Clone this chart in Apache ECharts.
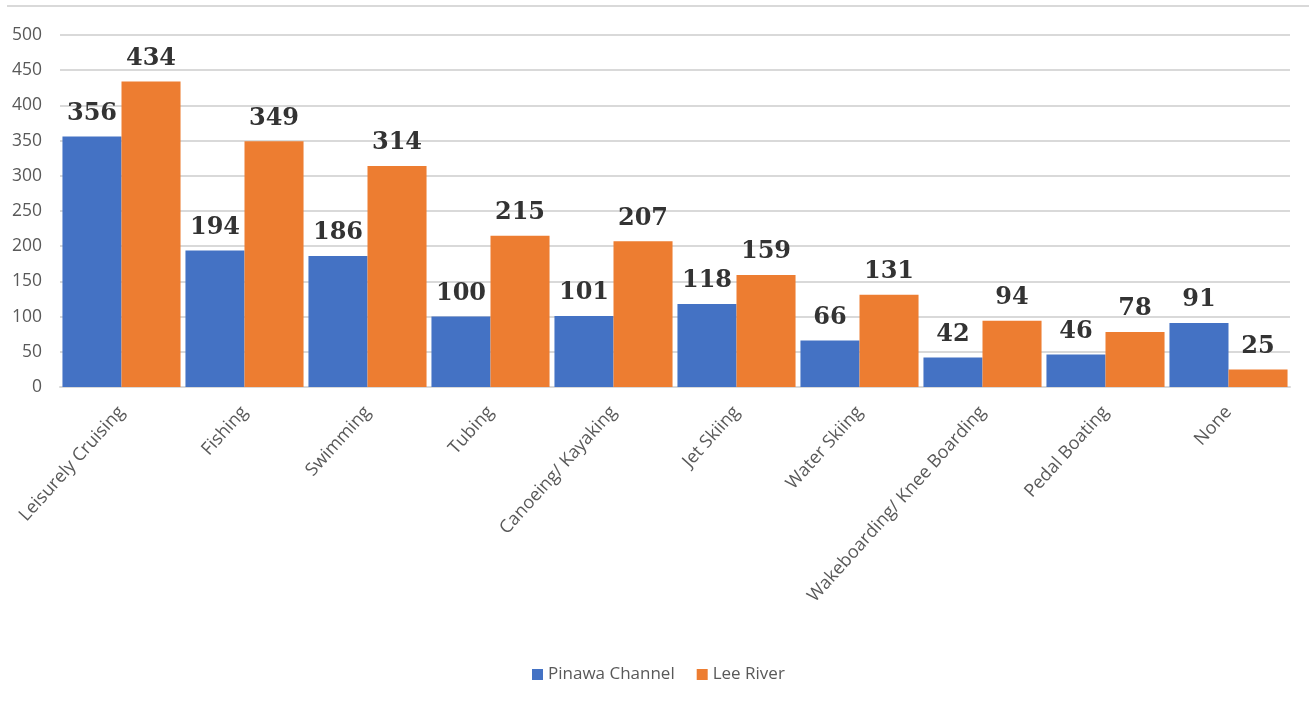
<!DOCTYPE html>
<html>
<head>
<meta charset="utf-8">
<script src="https://cdn.jsdelivr.net/npm/echarts@6/dist/echarts.min.js"></script>
<style>
  html, body { margin: 0; padding: 0; background: #ffffff; }
  #chart { width: 1309px; height: 710px; }
</style>
</head>
<body>
<div id="chart"></div>
<script>
// Activities reported on each waterway
const categories = [
  'Leisurely Cruising', 'Fishing', 'Swimming', 'Tubing', 'Canoeing/ Kayaking',
  'Jet Skiing', 'Water Skiing', 'Wakeboarding/ Knee Boarding', 'Pedal Boating', 'None'
];
const pinawaChannel = [356, 194, 186, 100, 101, 118, 66, 42, 46, 91];
const leeRiver = [434, 349, 314, 215, 207, 159, 131, 94, 78, 25];
const seriesNames = ['Pinawa Channel', 'Lee River'];

const chart = echarts.init(document.getElementById('chart'));

const valueLabel = {
  show: true,
  position: 'top',
  distance: 11,
  fontFamily: '"DejaVu Serif", serif',
  fontWeight: 'bold',
  fontSize: 24,
  color: '#333333'
};

chart.setOption({
  animation: false,
  backgroundColor: '#ffffff',
  graphic: [{
    type: 'line',
    shape: { x1: 7, y1: 6, x2: 1309, y2: 6 },
    style: { stroke: '#d9d9d9', lineWidth: 2 },
    silent: true
  }],
  grid: { left: 60, right: 19, top: 35, bottom: 323 },
  legend: {
    data: seriesNames,
    bottom: 22,
    left: 527,
    itemWidth: 11,
    itemHeight: 11,
    itemGap: 22,
    icon: 'rect',
    textStyle: { color: '#595959', fontSize: 17, fontFamily: '"Open Sans", sans-serif' }
  },
  xAxis: {
    type: 'category',
    data: categories,
    axisLine: { lineStyle: { color: '#d9d9d9', width: 2 } },
    axisTick: { show: false },
    axisLabel: {
      rotate: 48,
      interval: 0,
      margin: 22,
      color: '#595959',
      fontSize: 18,
      fontFamily: '"Open Sans", sans-serif'
    }
  },
  yAxis: {
    type: 'value',
    min: 0,
    max: 500,
    interval: 50,
    axisLine: { show: false },
    axisTick: { show: false },
    splitLine: { lineStyle: { color: '#d9d9d9', width: 2 } },
    axisLabel: {
      margin: 18,
      color: '#595959',
      fontSize: 17.5,
      fontFamily: '"Open Sans", sans-serif'
    }
  },
  series: [
    {
      name: seriesNames[0],
      type: 'bar',
      data: pinawaChannel,
      barGap: '0%',
      barCategoryGap: '4%',
      itemStyle: { color: '#4472c4' },
      label: valueLabel
    },
    {
      name: seriesNames[1],
      type: 'bar',
      data: leeRiver,
      barGap: '0%',
      barCategoryGap: '4%',
      itemStyle: { color: '#ed7d31' },
      label: valueLabel
    }
  ]
});
</script>
</body>
</html>
